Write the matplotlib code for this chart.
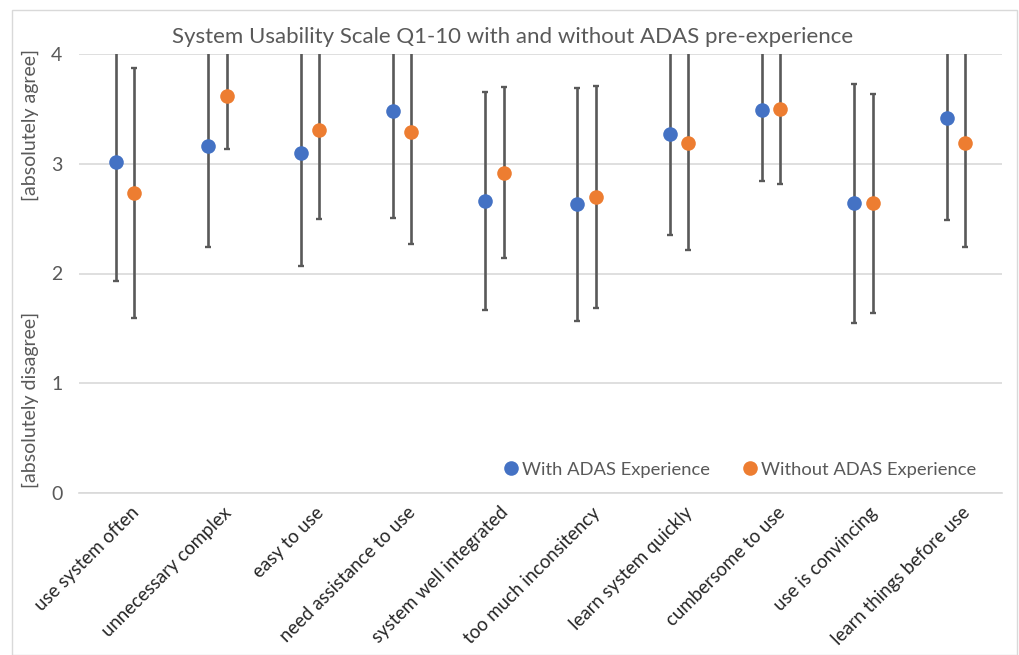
import matplotlib
matplotlib.use("Agg")
import matplotlib.pyplot as plt
import matplotlib.transforms as mtransforms
from matplotlib.patches import Rectangle
import numpy as np

plt.rcParams['font.family'] = ['Lato', 'DejaVu Sans']

categories = ["use system often", "unnecessary complex", "easy to use",
              "need assistance to use", "system well integrated",
              "too much inconsitency", "learn system quickly",
              "cumbersome to use", "use is convincing", "learn things before use"]

with_mean = [3.02, 3.16, 3.10, 3.48, 2.66, 2.63, 3.27, 3.49, 2.64, 3.42]
with_err = [1.09, 0.92, 1.03, 0.97, 0.99, 1.06, 0.92, 0.65, 1.09, 0.93]

without_mean = [2.73, 3.62, 3.31, 3.29, 2.92, 2.70, 3.19, 3.50, 2.64, 3.19]
without_err = [1.14, 0.49, 0.81, 1.02, 0.78, 1.01, 0.98, 0.68, 1.00, 0.95]

series_names = ["With ADAS Experience", "Without ADAS Experience"]
yticks = [0, 1, 2, 3, 4]

BLUE = "#4472C4"
ORANGE = "#ED7D31"
GREY = "#595959"
GRID = "#D9D9D9"

fig = plt.figure(figsize=(10.19, 6.55), dpi=100)
fig.patches.append(Rectangle((12 / 1019, 0.0), 1005 / 1019, 1 - 10 / 655,
                             transform=fig.transFigure, fill=False,
                             edgecolor="#D9D9D9", linewidth=1.0))

ax = fig.add_axes([79 / 1019, 1 - 493 / 655, 923 / 1019, 439 / 655])

x = np.arange(len(categories))
off = 0.1
for means, errs, color, name, dx in [(with_mean, with_err, BLUE, series_names[0], -off),
                                      (without_mean, without_err, ORANGE, series_names[1], off)]:
    ax.errorbar(x + dx, means, yerr=errs, fmt="none", ecolor=GREY,
                elinewidth=1.9, capsize=2.4, capthick=1.7, zorder=2)
    ax.plot(x + dx, means, "o", color=color, markersize=10.5, markeredgewidth=0,
            label=name, zorder=3, linestyle="none")

ax.set_xlim(-0.5, len(categories) - 0.5)
ax.set_ylim(0, 4)
ax.set_yticks(yticks)
ax.set_yticklabels([str(v) for v in yticks], fontsize=14, color=GREY)
ax.yaxis.grid(True, color=GRID, linewidth=1.2)
ax.set_axisbelow(True)
for s in ["left", "right", "top"]:
    ax.spines[s].set_visible(False)
ax.spines["bottom"].set_color(GRID)
ax.spines["bottom"].set_linewidth(1.2)
ax.tick_params(axis="y", length=0, pad=12)
ax.tick_params(axis="x", length=0, pad=0)

ax.set_xticks(x)
ax.set_xticklabels(categories, rotation=45, ha="right", va="top",
                   rotation_mode="anchor", fontsize=13.4, color="#262626")
shift = mtransforms.ScaledTranslation(5 / 100, -11 / 100, fig.dpi_scale_trans)
for lbl in ax.get_xticklabels():
    lbl.set_transform(lbl.get_transform() + shift)

fig.text(513 / 1019, 1 - 37 / 655, "System Usability Scale Q1-10 with and without ADAS pre-experience",
         ha="center", va="center", fontsize=16, color=GREY)
fig.text(30 / 1019, 1 - 125 / 655, "[absolutely agree]", rotation=90,
         ha="center", va="center", fontsize=14, color=GREY)
fig.text(30 / 1019, 1 - 400 / 655, "[absolutely disagree]", rotation=90,
         ha="center", va="center", fontsize=14, color=GREY)

leg = ax.legend(loc="lower right", bbox_to_anchor=(0.99, -0.003), ncol=2,
                frameon=False, fontsize=13.2, handletextpad=0.1,
                columnspacing=1.7, handlelength=1.0, markerscale=1.0)
for t in leg.get_texts():
    t.set_color(GREY)

fig.savefig("out.png", dpi=100)
